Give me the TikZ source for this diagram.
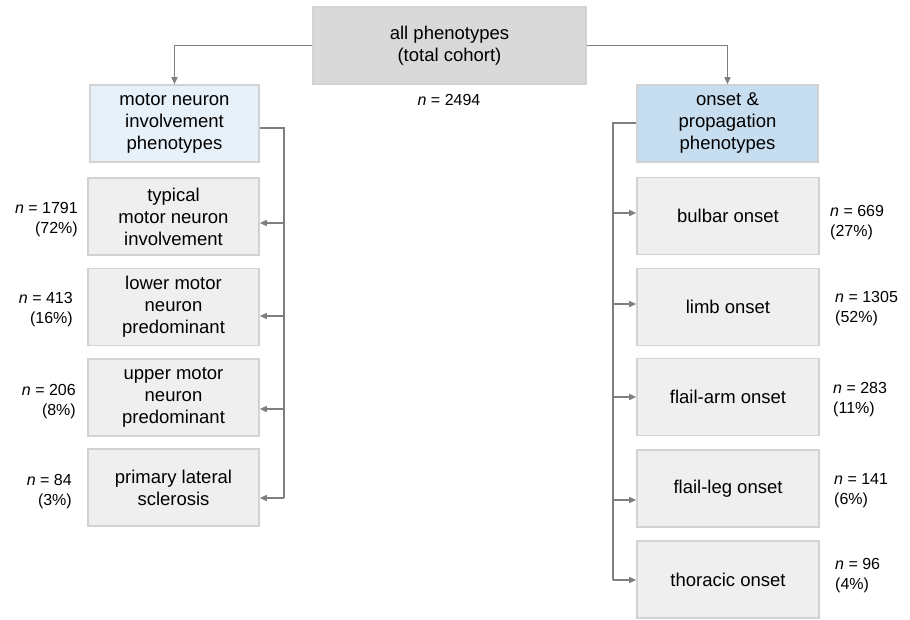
\documentclass[tikz,border=0pt]{standalone}
\usepackage{fontspec}
\setmainfont{Liberation Sans}
\usetikzlibrary{arrows.meta}

\definecolor{allgray}{HTML}{D9D9D9}
\definecolor{paleblue}{HTML}{E7F1F9}
\definecolor{midblue}{HTML}{C7DDF0}
\definecolor{childgray}{HTML}{EFEFEF}
\definecolor{edgegray}{HTML}{D2D2D2}
\definecolor{linkgray}{HTML}{7F7F7F}

\begin{document}
\begin{tikzpicture}[x=1pt,y=-1pt,
    box/.style={draw=edgegray,line width=1.6pt,fill=#1,inner sep=0pt,align=center,
      minimum height=77pt,font=\fontsize{18.5}{22}\selectfont},
    count/.style={inner sep=0pt,font=\fontsize{16}{20}\selectfont},
    link/.style={draw=linkgray,line width=1.5pt,-{Triangle[length=7pt,width=6pt]}},
    trunk/.style={draw=linkgray,line width=1.5pt}]
  \useasboundingbox (0,0) rectangle (910,619);

  % top and the two groups
  \node[box=allgray,minimum width=273pt] (all) at (449.5,45.5) {all phenotypes\\(total cohort)};
  \node[count] (total) at (449,100) {\textit{n} = 2494};
  \node[box=paleblue,minimum width=169pt] (mni) at (174.5,123.5) {motor neuron\\involvement\\phenotypes};
  \node[box=midblue,minimum width=181pt] (onp) at (727.5,123.5) {onset \&\\propagation\\phenotypes};

  \draw[link] (all.west) -| (mni.north);
  \draw[link] (all.east) -| (onp.north);

  % motor neuron involvement
  \coordinate (lbot) at (284,498);
  \draw[trunk] (mni.east |- 0,128) -| (lbot);
  \foreach \i/\txt/\yc/\ya/\lx/\ly/\num/\pct in {
      1/{typical\\motor neuron\\involvement}/216.5/223/78/220/1791/72,
      2/{lower motor\\neuron\\predominant}/307/316/73/310/413/16,
      3/{upper motor\\neuron\\predominant}/397.5/409/76/402/206/8,
      4/{primary lateral\\sclerosis}/487.5/498/72/492/84/3} {
    \node[box=childgray,minimum width=171pt] (mn\i) at (173.5,\yc) {\txt};
    \node[count,anchor=east,align=right] (mnn\i) at (\lx,\ly) {\textit{n} = \num\\(\pct\%)};
    \draw[link] (284,\ya) -- (mn\i.east |- 0,\ya);
  }

  % onset and propagation
  \coordinate (rbot) at (613,580);
  \draw[trunk] (onp.west |- 0,123) -| (rbot);
  \foreach \i/\txt/\yc/\ya/\lx/\ly/\num/\pct in {
      1/bulbar onset/216/213/830/223/669/27,
      2/limb onset/307/304/835/309/1305/52,
      3/flail-arm onset/397/397/833/400/283/11,
      4/flail-leg onset/488.5/500/834/491/141/6,
      5/thoracic onset/579.5/580/835/576/96/4} {
    \node[box=childgray,minimum width=182pt] (on\i) at (728,\yc) {\txt};
    \node[count,anchor=west,align=left] (onn\i) at (\lx,\ly) {\textit{n} = \num\\(\pct\%)};
    \draw[link] (613,\ya) -- (on\i.west |- 0,\ya);
  }
\end{tikzpicture}
\end{document}
